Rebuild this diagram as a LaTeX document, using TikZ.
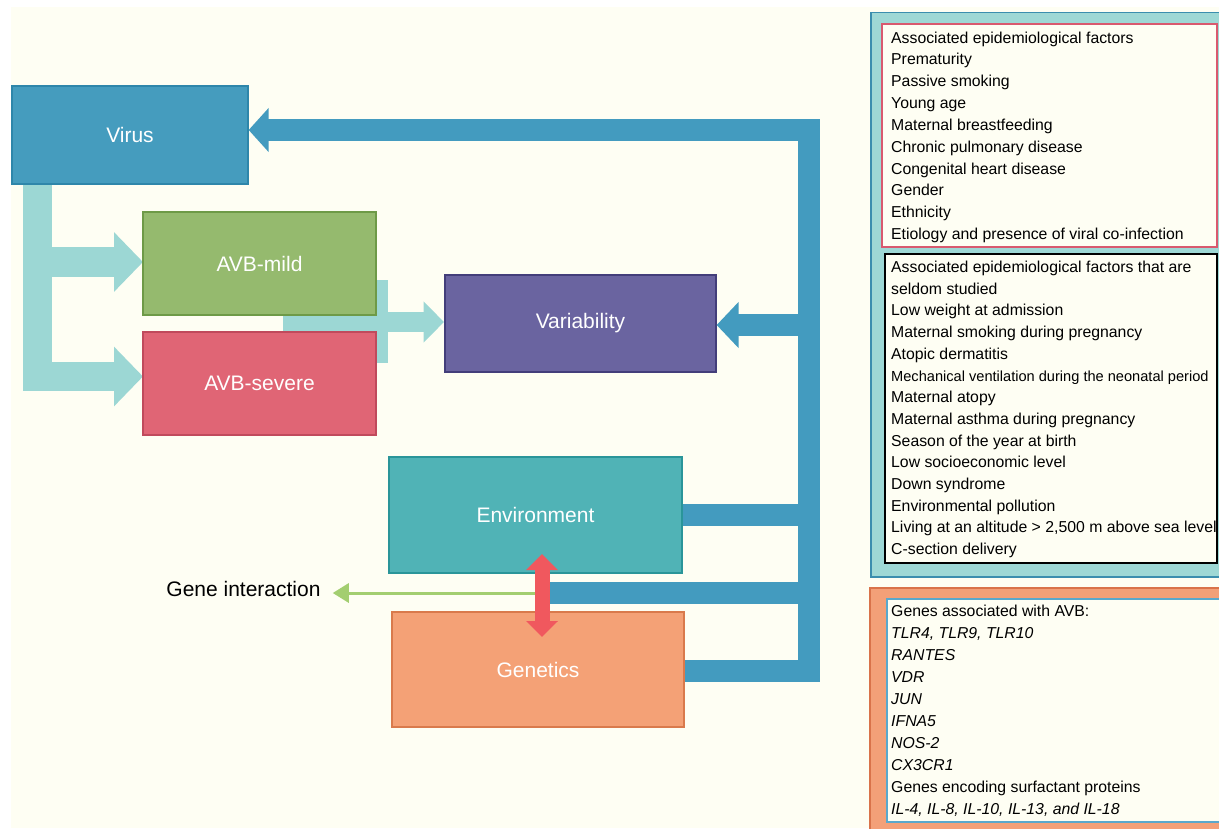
\documentclass[tikz,border=0pt]{standalone}
\usepackage{fontspec}
\setmainfont{Liberation Sans}
\usetikzlibrary{arrows.meta}
\definecolor{cream}{HTML}{FEFEF3}
\definecolor{virusfill}{HTML}{459CBE}
\definecolor{virusdraw}{HTML}{2E86AA}
\definecolor{busblue}{HTML}{439BBF}
\definecolor{mildfill}{HTML}{95BA6E}
\definecolor{milddraw}{HTML}{6E9A47}
\definecolor{sevfill}{HTML}{E06575}
\definecolor{sevdraw}{HTML}{C04A5C}
\definecolor{varfill}{HTML}{6A64A0}
\definecolor{vardraw}{HTML}{433E7A}
\definecolor{envfill}{HTML}{50B3B6}
\definecolor{envdraw}{HTML}{2A9599}
\definecolor{genfill}{HTML}{F4A176}
\definecolor{gendraw}{HTML}{D97A4C}
\definecolor{lteal}{HTML}{9CD7D4}
\definecolor{redarrow}{HTML}{F0585E}
\definecolor{greenarrow}{HTML}{A3CE70}
\definecolor{panelteal}{HTML}{9ED8D5}
\definecolor{paneltealdraw}{HTML}{3B8EAE}
\definecolor{pinkdraw}{HTML}{D9596E}
\definecolor{orangefill}{HTML}{F3A078}
\definecolor{orangedraw}{HTML}{D9734A}
\definecolor{genboxdraw}{HTML}{5AA8CC}
\begin{document}
\begin{tikzpicture}[x=1pt,y=-1pt,
  box/.style={draw, line width=1.3pt, inner sep=0pt, text=white,
    font=\fontsize{21}{25}\selectfont},
  bluebar/.style={draw=busblue, line width=22pt, line join=miter},
  tealbar/.style={draw=lteal, line width=29.5pt, line join=miter},
  listtext/.style={anchor=base west, inner sep=0pt, text=black,
    font=\fontsize{15.8}{19}\selectfont},
]
\useasboundingbox (0,0) rectangle (1219,828);
\clip (0,0) rectangle (1219,828);
\fill[white] (0,0) rectangle (1219,828);
\fill[cream] (11,7) rectangle (1219,828);

% ---- coordinates
\coordinate (tvb) at (37.5,184);
\coordinate (tcorner) at (37.5,376.5);
\coordinate (tmid) at (37.5,262);
\coordinate (mleft) at (283,322);
\coordinate (mtop) at (377,280);
\coordinate (mbot) at (377,363);
\coordinate (bustop) at (809,130);
\coordinate (busvar) at (809,325);
\coordinate (busenv) at (809,515);
\coordinate (busgi) at (809,593);
\coordinate (busbot) at (809,671);
\coordinate (gi) at (542,593);
\coordinate (rtop) at (542,554);
\coordinate (rbot) at (542,637);

% ---- light teal connectors (behind boxes)
\draw[tealbar,-{Triangle[width=58pt,length=29pt]}] (tvb) -- (tcorner) -- (tcorner -| 143,0);
\draw[tealbar,-{Triangle[width=58pt,length=29pt]}] (tmid) -- (tmid -| 143,0);
\draw[draw=lteal, line width=21pt] (mtop) -- (mbot);
\draw[draw=lteal, line width=20pt, -{Triangle[width=40pt,length=20.5pt]}] (mleft) -- (mleft -| 444,0);

% ---- boxes
\node[box, fill=virusfill, draw=virusdraw, minimum width=236pt, minimum height=98pt] (virus) at (130,135) {Virus};
\node[box, fill=mildfill, draw=milddraw, minimum width=233pt, minimum height=103pt] (mild) at (259.5,263.5) {AVB-mild};
\node[box, fill=sevfill, draw=sevdraw, minimum width=233pt, minimum height=103pt] (severe) at (259.5,383.5) {AVB-severe};
\node[box, fill=varfill, draw=vardraw, minimum width=271pt, minimum height=97pt] (var) at (580.5,323.5) {Variability};
\node[box, fill=envfill, draw=envdraw, minimum width=293pt, minimum height=116pt] (env) at (535.5,515) {Environment};
\node[box, fill=genfill, draw=gendraw, minimum width=292pt, minimum height=115pt] (gen) at (538,669.5) {Genetics};

% ---- blue feedback bus
\draw[bluebar,-{Triangle[width=43pt,length=20pt]}] (busbot -| gen.east) -- (busbot) -- (bustop) -- (bustop -| virus.east);
\draw[bluebar,-{Triangle[width=45pt,length=22pt]}] (busvar) -- (busvar -| var.east);
\draw[bluebar] (busenv -| env.east) -- (busenv);
\draw[bluebar] (gi) -- (busgi);

% ---- gene interaction
\node[inner sep=0pt, text=black, font=\fontsize{21}{25}\selectfont] (gitext) at (243.5,589) {Gene interaction};
\draw[draw=greenarrow, line width=3pt, shorten >=12pt, -{Triangle[width=19pt,length=16pt]}] (gi) -- (gi -| gitext.east);
\draw[draw=redarrow, line width=15pt, {Triangle[width=31pt,length=16pt]}-{Triangle[width=31pt,length=16pt]}] (rtop) -- (rbot);

% ---- right panel
\filldraw[fill=panelteal, draw=paneltealdraw, line width=1.5pt] (871,12.5) rectangle (1235,577);
\filldraw[fill=cream, draw=pinkdraw, line width=1.5pt] (882,24) rectangle (1217,247);
\filldraw[fill=cream, draw=black, line width=2pt] (885,254) rectangle (1217,563);
\filldraw[fill=orangefill, draw=orangedraw, line width=1.5pt] (870,588) rectangle (1235,840);
\filldraw[fill=cream, draw=genboxdraw, line width=1.5pt] (887,599) rectangle (1230,822);

\foreach \t [count=\i from 0] in {Associated epidemiological factors, Prematurity, Passive smoking, Young age, Maternal breastfeeding, Chronic pulmonary disease, Congenital heart disease, Gender, Ethnicity, Etiology and presence of viral co-infection}
  \node[listtext] (pa\i) at (891,{43+21.85*\i}) {\t};

\foreach \t [count=\i from 0] in {Associated epidemiological factors that are, seldom studied, Low weight at admission, Maternal smoking during pregnancy, Atopic dermatitis, {\fontsize{14.6}{17}\selectfont Mechanical ventilation during the neonatal period}, Maternal atopy, Maternal asthma during pregnancy, Season of the year at birth, Low socioeconomic level, Down syndrome, Environmental pollution, {Living at an altitude > 2,500 m above sea level}, C-section delivery}
  \node[listtext] (pb\i) at (891,{272.5+21.7*\i}) {\t};

\foreach \t [count=\i from 0] in {Genes associated with AVB:, {\itshape TLR4, TLR9, TLR10}, \itshape RANTES, \itshape VDR, \itshape JUN, \itshape IFNA5, \itshape NOS-2, \itshape CX3CR1, Genes encoding surfactant proteins, {\itshape IL-4, IL-8, IL-10, IL-13, and IL-18}}
  \node[listtext] (pc\i) at (891,{616.7+22.03*\i}) {\t};
\end{tikzpicture}
\end{document}
